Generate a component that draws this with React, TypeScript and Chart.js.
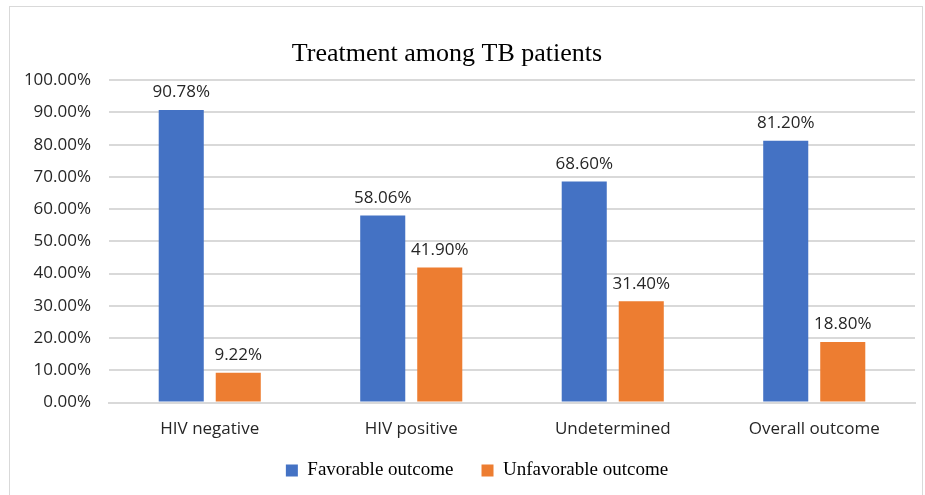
import React, { useEffect, useRef } from "react";
import { Chart, registerables } from "chart.js";

Chart.register(...registerables);

const categories = ["HIV negative", "HIV positive", "Undetermined", "Overall outcome"];
const favorable = [90.78, 58.06, 68.6, 81.2];
const unfavorable = [9.22, 41.9, 31.4, 18.8];
const seriesNames = ["Favorable outcome", "Unfavorable outcome"];
const chartTitle = "Treatment among TB patients";

const SANS = "'Open Sans', 'Noto Sans', sans-serif";
const SERIF = "'Liberation Serif', 'Times New Roman', serif";

const labelPlugin = {
  id: "barLabels",
  afterLayout(chart: any) {
    const shift = (box: any, center: number) => {
      if (!box) return;
      const d = center - (box.left + box.right) / 2;
      box.left += d;
      box.right += d;
    };
    shift(chart.titleBlock, 447);
    shift(chart.legend, 477);
    if (chart.legend) {
      chart.legend.top -= 22;
      chart.legend.bottom -= 22;
    }
  },
  afterDatasetsDraw(chart: any) {
    const ctx = chart.ctx;
    ctx.save();
    ctx.font = `17px ${SANS}`;
    ctx.fillStyle = "#262626";
    ctx.textAlign = "center";
    ctx.textBaseline = "bottom";
    chart.data.datasets.forEach((ds: any, i: number) => {
      const meta = chart.getDatasetMeta(i);
      meta.data.forEach((bar: any, j: number) => {
        ctx.fillText(ds.data[j].toFixed(2) + "%", bar.x, bar.y - 9);
      });
    });
    ctx.restore();
  },
};

export default function App() {
  const ref = useRef<HTMLCanvasElement>(null);
  useEffect(() => {
    document.body.style.margin = "0";
    const chart = new Chart(ref.current!, {
      type: "bar",
      data: {
        labels: categories,
        datasets: [
          { label: seriesNames[0], data: favorable, backgroundColor: "#4472C4", barPercentage: 0.79, categoryPercentage: 0.566 },
          { label: seriesNames[1], data: unfavorable, backgroundColor: "#ED7D31", barPercentage: 0.79, categoryPercentage: 0.566 },
        ],
      },
      options: {
        animation: false,
        responsive: false,
        maintainAspectRatio: false,
        layout: { padding: { left: 0, right: 10, top: 0, bottom: -17 } },
        plugins: {
          title: {
            display: true,
            text: chartTitle,
            font: { family: SERIF, size: 26, weight: "normal" },
            color: "#000",
            padding: { top: 39, bottom: 10 },
          },
          legend: {
            position: "bottom",
            labels: {
              font: { family: SERIF, size: 19 },
              color: "#000",
              boxWidth: 12,
              boxHeight: 12,
              padding: 28,
            },
          },
          tooltip: { enabled: false },
        },
        scales: {
          x: {
            grid: { display: false, drawTicks: false },
            border: { display: true, color: "#d9d9d9", width: 2 },
            ticks: { font: { family: SANS, size: 17 }, color: "#262626", padding: 16 },
          },
          y: {
            min: 0,
            max: 100,
            grid: { color: "#d9d9d9", lineWidth: 2, drawTicks: false },
            border: { display: false },
            ticks: {
              stepSize: 10,
              font: { family: SANS, size: 17 },
              color: "#262626",
              padding: 18,
              callback: (v: any) => Number(v).toFixed(2) + "%",
            },
            afterFit: (s: any) => {
              s.width = 109;
            },
          },
        },
      },
      plugins: [labelPlugin],
    });
    return () => chart.destroy();
  }, []);
  return (
    <div style={{ position: "relative", width: 925, height: 495 }}>
      <canvas ref={ref} width={925} height={495} style={{ display: "block" }} />
      <div
        style={{
          position: "absolute",
          left: 9,
          top: 6,
          width: 912,
          height: 500,
          border: "1px solid #d9d9d9",
          pointerEvents: "none",
        }}
      />
    </div>
  );
}
